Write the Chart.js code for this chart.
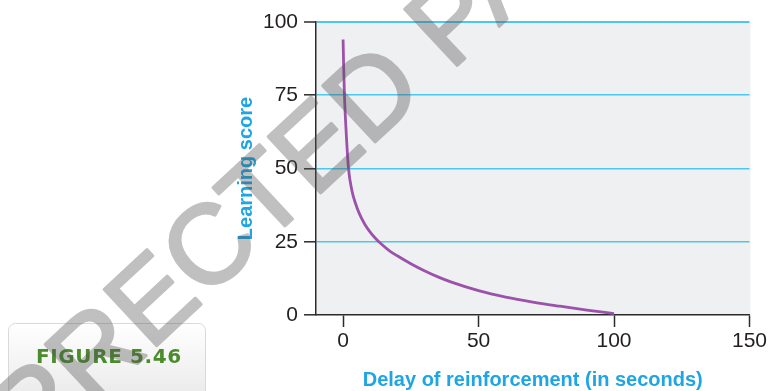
<!DOCTYPE html>
<html>
<head>
<meta charset="utf-8">
<script src="https://cdn.jsdelivr.net/npm/chart.js@4.4.1/dist/chart.umd.min.js"></script>
<style>
  html, body { margin: 0; padding: 0; background: #ffffff; }
  canvas { display: block; }
</style>
</head>
<body>
<canvas id="c" width="769" height="391"></canvas>
<script>
// ---- data ----
const delaySeconds = [0, 0.2, 0.5, 1.1, 2, 3.2, 4.5, 6, 8, 10, 12, 14, 17, 20, 25, 30, 35, 40, 50, 60, 70, 80, 90, 100];
const learningScore = [94, 85, 75, 63, 50, 42.7, 38.3, 34.6, 31.0, 28.3, 26.1, 24.3, 22.0, 20.2, 17.5, 15.1, 13.0, 11.2, 8.3, 6.1, 4.4, 3.0, 1.7, 0.5];
const xTickValues = [0, 50, 100, 150];
const yTickValues = [0, 25, 50, 75, 100];
const xTitle = 'Delay of reinforcement (in seconds)';
const yTitle = 'Learning score';
const figureLabel = 'FIGURE 5.46';
const watermarkText = 'UNCORRECTED PAGE PROOFS';

const sans = '"Liberation Sans", Arial, Helvetica, sans-serif';
const titleColor = '#1ea5e3';
const axisColor = '#2b2b2b';

const points = delaySeconds.map((d, i) => ({ x: d, y: learningScore[i] }));

const bgPlugin = {
  id: 'plotBg',
  beforeDraw(chart) {
    const { ctx, chartArea: a } = chart;
    ctx.save();
    ctx.fillStyle = '#eff0f2';
    ctx.fillRect(a.left, a.top, a.right - a.left + 1, a.bottom - a.top);
    ctx.restore();
  }
};

const overlayPlugin = {
  id: 'overlay',
  afterDraw(chart) {
    const ctx = chart.ctx;
    ctx.save();
    // figure label box
    const g = ctx.createLinearGradient(0, 323, 0, 391);
    g.addColorStop(0, '#ffffff');
    g.addColorStop(1, '#ececec');
    ctx.beginPath();
    ctx.roundRect(8.5, 323.5, 197, 85, 7);
    ctx.fillStyle = g;
    ctx.fill();
    ctx.strokeStyle = '#d9d9d9';
    ctx.lineWidth = 1;
    ctx.stroke();
    ctx.fillStyle = '#4a8b2c';
    ctx.font = 'bold 20px "DejaVu Sans", sans-serif';
    ctx.letterSpacing = '0.6px';
    ctx.textBaseline = 'middle';
    ctx.textAlign = 'left';
    ctx.fillText(figureLabel, 36, 358);
    ctx.letterSpacing = '0px';
    ctx.restore();

    // watermark (drawn opaque off-screen, then composited with transparency)
    const off = document.createElement('canvas');
    off.width = chart.width; off.height = chart.height;
    const o = off.getContext('2d');
    const size = 112;
    const theta = -43 * Math.PI / 180;
    o.font = size + 'px "Liberation Sans", Arial, sans-serif';
    const pre = o.measureText('UNCOR').width;
    const rw = o.measureText('R').width;
    const lx = pre + rw / 2, ly = -0.36 * size;
    const tx = 93 - (Math.cos(theta) * lx - Math.sin(theta) * ly);
    const ty = 350 - (Math.sin(theta) * lx + Math.cos(theta) * ly);
    o.translate(tx, ty);
    o.rotate(theta);
    o.fillStyle = '#505050';
    o.strokeStyle = '#505050';
    o.lineWidth = 3;
    o.lineJoin = 'round';
    o.fillText(watermarkText, 0, 0);
    o.strokeText(watermarkText, 0, 0);
    ctx.save();
    ctx.globalAlpha = 0.36;
    ctx.drawImage(off, 0, 0);
    ctx.restore();
  }
};

new Chart(document.getElementById('c'), {
  type: 'scatter',
  data: {
    datasets: [{
      data: points,
      showLine: true,
      borderColor: '#9b52aa',
      borderWidth: 2.8,
      pointRadius: 0,
      fill: false,
      cubicInterpolationMode: 'monotone'
    }]
  },
  options: {
    responsive: false,
    animation: false,
    layout: { padding: { left: 0, right: 18, top: 22, bottom: 0 } },
    plugins: { legend: { display: false }, tooltip: { enabled: false } },
    scales: {
      x: {
        type: 'linear', min: -10, max: 150,
        afterBuildTicks: s => { s.ticks = xTickValues.map(v => ({ value: v })); },
        afterFit: s => { s.height = 76; },
        grid: { drawOnChartArea: false, drawTicks: true, tickLength: 12, tickColor: axisColor, tickWidth: 1.5 },
        border: { color: axisColor, width: 1.5 },
        ticks: { font: { family: sans, size: 21 }, color: '#231f20', padding: 2, maxRotation: 0, autoSkip: false },
        title: { display: true, text: xTitle, color: titleColor, font: { family: sans, size: 20, weight: 'bold', lineHeight: 1.1 }, padding: { top: 0, bottom: 0 } }
      },
      y: {
        type: 'linear', min: 0, max: 100,
        afterBuildTicks: s => { s.ticks = yTickValues.map(v => ({ value: v })); },
        afterFit: s => { s.width = 316; },
        grid: {
          color: c => (c.tick && c.tick.value === 0) ? 'rgba(0,0,0,0)' : '#4cc8ee',
          lineWidth: c => (c.tick && c.tick.value === 100) ? 2 : 1.6,
          drawTicks: true, tickLength: 12, tickColor: axisColor, tickWidth: 1.5
        },
        border: { color: axisColor, width: 1.5 },
        ticks: { font: { family: sans, size: 21 }, color: '#231f20', padding: 6 },
        title: { display: true, text: yTitle, color: titleColor, font: { family: sans, size: 20, weight: 'bold', lineHeight: 1 }, padding: { top: 236, bottom: 0 } }
      }
    }
  },
  plugins: [bgPlugin, overlayPlugin]
});
</script>
</body>
</html>
